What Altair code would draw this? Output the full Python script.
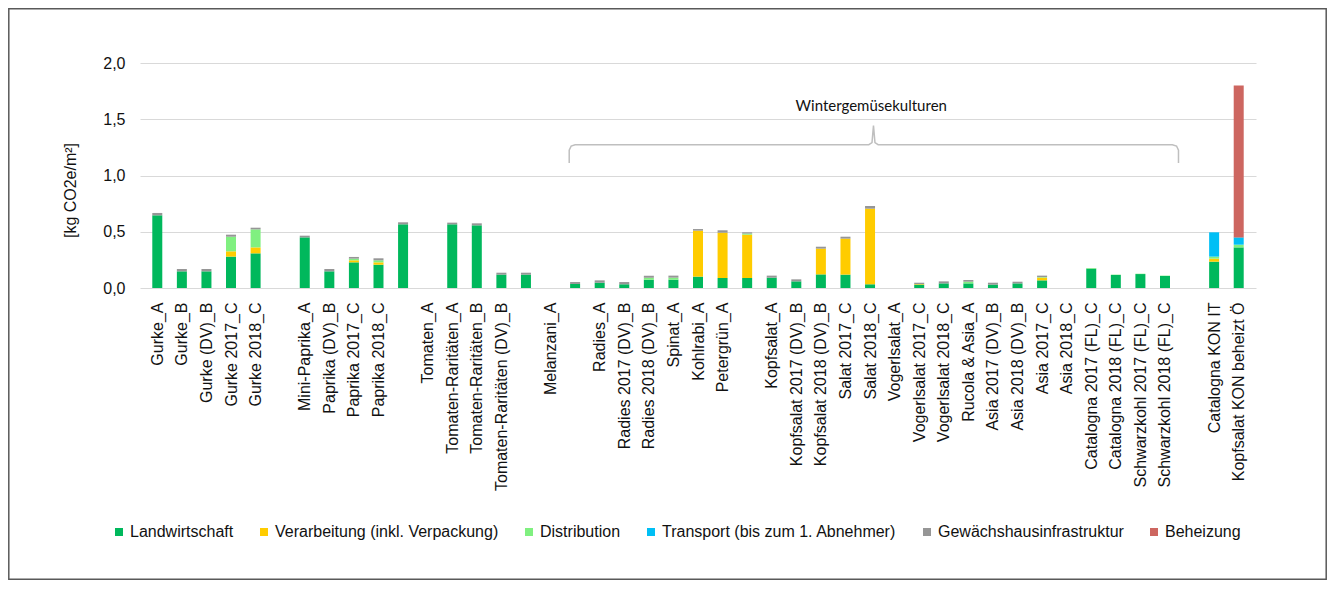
import json
import altair as alt
import pandas as pd

# ---------------- data ----------------
categories = [
    "Gurke_A", "Gurke_B", "Gurke (DV)_B", "Gurke 2017_C", "Gurke 2018_C", "",
    "Mini-Paprika_A", "Paprika (DV)_B", "Paprika 2017_C", "Paprika 2018_C", "",
    "Tomaten_A", "Tomaten-Raritäten_A", "Tomaten-Raritäten_B", "Tomaten-Raritäten (DV)_B", "",
    "Melanzani_A", "", "Radies_A", "Radies 2017 (DV)_B", "Radies 2018 (DV)_B", "Spinat_A",
    "Kohlrabi_A", "Petergrün_A", "", "Kopfsalat_A", "Kopfsalat 2017 (DV)_B",
    "Kopfsalat 2018 (DV)_B", "Salat 2017_C", "Salat 2018_C", "Vogerlsalat_A",
    "Vogerlsalat 2017_C", "Vogerlsalat 2018_C", "Rucola & Asia_A", "Asia 2017 (DV)_B",
    "Asia 2018 (DV)_B", "Asia 2017_C", "Asia 2018_C", "Catalogna 2017 (FL)_C",
    "Catalogna 2018 (FL)_C", "Schwarzkohl 2017 (FL)_C", "Schwarzkohl 2018 (FL)_C", "",
    "Catalogna KON IT", "Kopfsalat KON beheizt Ö",
]

landwirtschaft = [0.646, 0.148, 0.148, 0.279, 0.308, 0, 0.450, 0.148, 0.228, 0.207, 0.566, 0,
                  0.566, 0.557, 0.119, 0.119, 0, 0.036, 0.047, 0.033, 0.074, 0.074, 0.101, 0.089,
                  0.089, 0.092, 0.059, 0.121, 0.119, 0.033, 0, 0.030, 0.041, 0.041, 0.030, 0.041,
                  0.068, 0, 0.172, 0.116, 0.124, 0.107, 0, 0.234, 0.361]
verarbeitung = [0, 0, 0, 0.047, 0.053, 0, 0, 0, 0.018, 0.021, 0, 0,
                0, 0, 0, 0, 0, 0, 0, 0, 0, 0, 0.409, 0.403,
                0.385, 0, 0, 0.229, 0.320, 0.672, 0, 0.005, 0, 0, 0, 0,
                0.024, 0, 0, 0, 0, 0, 0, 0.027, 0]
distribution = [0, 0, 0, 0.130, 0.160, 0, 0, 0, 0.015, 0.018, 0, 0,
                0, 0, 0, 0, 0, 0, 0, 0, 0.018, 0.018, 0, 0,
                0.010, 0, 0, 0, 0, 0, 0, 0, 0, 0.015, 0, 0,
                0.005, 0, 0.006, 0.003, 0.003, 0.003, 0, 0.018, 0.024]
transport = [0] * 43 + [0.216, 0.065]
gewaechshaus = [0.021, 0.021, 0.021, 0.018, 0.015, 0, 0.015, 0.021, 0.015, 0.018, 0.018, 0,
                0.015, 0.018, 0.017, 0.017, 0, 0.017, 0.021, 0.020, 0.018, 0.018, 0.014, 0.021,
                0.011, 0.018, 0.018, 0.017, 0.017, 0.024, 0, 0.012, 0.018, 0.015, 0.017, 0.015,
                0.013, 0, 0, 0, 0, 0, 0, 0, 0]
beheizung = [0] * 44 + [1.351]

components = ["Landwirtschaft", "Verarbeitung (inkl. Verpackung)", "Distribution",
              "Transport (bis zum 1. Abnehmer)", "Gewächshausinfrastruktur", "Beheizung"]
colors = ["#00B85C", "#FFCC00", "#80F080", "#00BFF5", "#969696", "#CD6660"]

y_ticks = [0, 0.5, 1.0, 1.5, 2.0]

annotation_text = "Wintergemüsekulturen"
annotation_pos = [29.05, 1.614]
brace_x = [16.76, 16.76, 16.84, 17.0, 28.95, 29.08, 29.14, 29.2, 29.33, 41.3, 41.47, 41.55, 41.55]
brace_y = [1.111, 1.225, 1.262, 1.274, 1.274, 1.292, 1.443, 1.292, 1.274, 1.274, 1.262, 1.225, 1.111]

# ---------------- tables ----------------
series = [landwirtschaft, verarbeitung, distribution, transport, gewaechshaus, beheizung]
rows = []
for ci, (name, vals) in enumerate(zip(components, series)):
    for i, v in enumerate(vals):
        if v > 0:
            rows.append({"pos": i, "cat": categories[i], "comp": name, "ord": ci, "value": v})
bars_df = pd.DataFrame(rows)
brace_df = pd.DataFrame({"pos": brace_x, "value": brace_y, "o": list(range(len(brace_x)))})
text_df = pd.DataFrame({"pos": [annotation_pos[0]], "value": [annotation_pos[1]], "t": [annotation_text]})
frame_df = pd.DataFrame({"a": [0]})

label_expr = json.dumps(categories, ensure_ascii=False) + "[datum.value]"
FONT = "Liberation Sans"

x_scale = alt.Scale(domain=[-0.5, len(categories) - 0.5], nice=False, zero=False)
y_scale = alt.Scale(domain=[0, 2], nice=False)

x_axis = alt.Axis(values=list(range(len(categories))), labelExpr=label_expr,
                  labelAngle=-90, labelAlign="right", labelBaseline="middle",
                  labelPadding=14, labelLimit=400, labelOverlap=False, labelFlush=False,
                  ticks=False, domain=False, grid=False, title=None,
                  labelFont=FONT, labelFontSize=16, labelColor="#111")
y_axis = alt.Axis(values=y_ticks,
                  labelExpr="replace(format(datum.value, '.1f'), '.', ',')",
                  ticks=False, domain=False, grid=True, gridColor="#D9D9D9",
                  gridWidth=1, labelPadding=15, labelFont=FONT, labelFontSize=16,
                  labelColor="#111",
                  title="[kg CO2e/m²]", titleFont=FONT, titleFontSize=16,
                  titleFontWeight="normal", titleColor="#111",
                  titleX=-70, titleY=127, titleAngle=-90,
                  titleAlign="center", titleBaseline="middle")

X = alt.X("pos:Q", scale=x_scale, axis=x_axis)

bars = alt.Chart(bars_df).mark_bar(size=10).encode(
    x=X,
    y=alt.Y("value:Q", stack="zero", scale=y_scale, axis=y_axis),
    color=alt.Color("comp:N", scale=alt.Scale(domain=components, range=colors),
                    legend=alt.Legend(title=None, orient="none", direction="horizontal",
                                      columns=6, legendX=-29, legendY=461,
                                      symbolType="square", symbolSize=64, symbolStrokeWidth=0,
                                      labelFont=FONT, labelFontSize=16, labelColor="#111",
                                      labelOffset=3, columnPadding=22, labelLimit=400)),
    order=alt.Order("ord:Q", sort="ascending"),
)

brace = alt.Chart(brace_df).mark_line(color="#BFBFBF", strokeWidth=1.5).encode(
    x=X,
    y=alt.Y("value:Q", scale=y_scale, axis=y_axis),
    order="o:Q",
)

label = alt.Chart(text_df).mark_text(font="Lato", fontSize=15, color="#111").encode(
    x=X,
    y=alt.Y("value:Q", scale=y_scale, axis=y_axis),
    text="t:N",
)

frame = alt.Chart(frame_df).mark_rect(fill=None, stroke="#595959", strokeWidth=1.5, clip=False).encode(
    x=alt.value(-131.2), x2=alt.value(1186.2), y=alt.value(-54.2), y2=alt.value(516.2),
)

chart = alt.layer(bars, brace, label, frame).properties(
    width=1116, height=225,
    autosize=alt.AutoSizeParams(type="none"),
    padding={"left": 132, "top": 55, "right": 71, "bottom": 292},
    background="white",
).configure_view(stroke=None)

chart.save("out.html", embed_options={"renderer": "svg", "actions": False})
